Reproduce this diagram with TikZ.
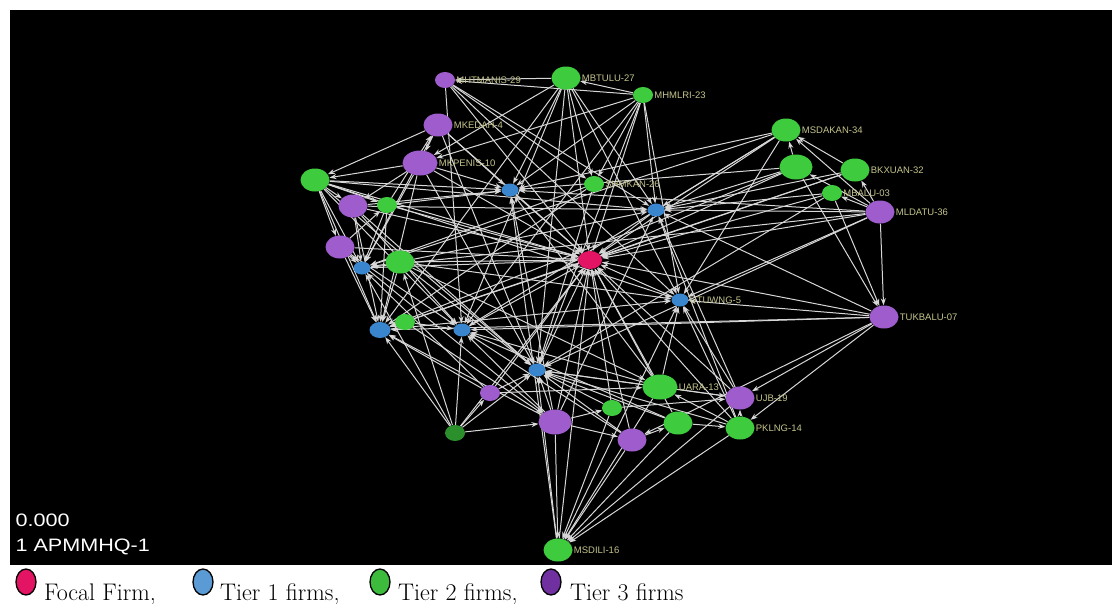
\documentclass[tikz,border=0pt]{standalone}
\usepackage{fontspec}
\usetikzlibrary{shapes.geometric,arrows.meta}
\newfontfamily\arialfont{Liberation Sans}
\definecolor{focalred}{RGB}{228,20,100}
\definecolor{tierblue}{RGB}{58,134,206}
\definecolor{tiergreen}{RGB}{62,204,62}
\definecolor{tierpurple}{RGB}{158,92,204}
\definecolor{keyblue}{RGB}{91,155,213}
\definecolor{keygreen}{RGB}{61,187,61}
\definecolor{keypurple}{RGB}{112,48,160}
\definecolor{tagyellow}{RGB}{196,196,140}
\definecolor{linkgrey}{RGB}{215,215,215}
\pgfdeclarelayer{bg}
\pgfsetlayers{bg,main}

\begin{document}
\begin{tikzpicture}[x=1pt,y=-1pt,
            firm/.style={ellipse,inner sep=0pt,minimum width=29pt,minimum height=23pt},
            small/.style={minimum width=20pt,minimum height=16pt},
            focal/.style={firm,fill=focalred,minimum width=24pt,minimum height=18pt},
            tierone/.style={firm,fill=tierblue,minimum width=17pt,minimum height=13pt},
            tiertwo/.style={firm,fill=tiergreen},
            tierthree/.style={firm,fill=tierpurple},
            tag/.style={font=\arialfont\fontsize{9.5}{9.5}\selectfont,text=tagyellow,inner sep=1pt},
            link/.style={draw=linkgrey,line width=1pt,-{Stealth[length=7pt,width=5pt,fill=white]}},
            keyoval/.style={ellipse,draw=black,line width=1.3pt,minimum width=20pt,minimum height=26pt,inner sep=0pt},
            keytext/.style={anchor=base west,inner sep=0pt,font=\fontsize{24}{24}\selectfont}]

    \useasboundingbox (0,0) rectangle (1112,603);

    \node[focal] (f) at (590,260) {};

    \node[tierone] (t1a) at (510,190) {};
    \node[tierone] (t1b) at (656,210) {};
    \node[tierone] (t1c) at (362,268) {};
    \node[tierone,label={[tag]right:UTUWNG-5}] (t1d) at (680,300) {};
    \node[tierone,minimum width=21pt,minimum height=16pt] (t1e) at (380,330) {};
    \node[tierone] (t1f) at (462,330) {};
    \node[tierone] (t1g) at (537,370) {};

    \node[tiertwo,label={[tag]right:MBTULU-27}] (t2a) at (566,78) {};
    \node[tiertwo,small,label={[tag]right:MHMLRI-23}] (t2b) at (643,95) {};
    \node[tiertwo] (t2c) at (315,180) {};
    \node[tiertwo,small] (t2d) at (387,205) {};
    \node[tiertwo] (t2e) at (400,262) {};
    \node[tiertwo,small,label={[tag]right:SHMKAN-26}] (t2f) at (594,184) {};
    \node[tiertwo,label={[tag]right:MSDAKAN-34}] (t2g) at (786,130) {};
    \node[tiertwo,minimum width=33pt,minimum height=25pt] (t2h) at (796,167) {};
    \node[tiertwo,label={[tag]right:BKXUAN-32}] (t2i) at (855,170) {};
    \node[tiertwo,small,label={[tag]right:MBALU-03}] (t2j) at (832,193) {};
    \node[tiertwo,minimum width=35pt,minimum height=25pt,label={[tag]right:UARA-13}] (t2k) at (660,387) {};
    \node[tiertwo,small] (t2l) at (612,408) {};
    \node[tiertwo] (t2m) at (678,423) {};
    \node[tiertwo,label={[tag]right:PKLNG-14}] (t2n) at (740,428) {};
    \node[tiertwo,small,fill=tiergreen!70!black] (t2o) at (455,433) {};
    \node[tiertwo,label={[tag]right:MSDILI-16}] (t2p) at (558,550) {};
    \node[tiertwo,small] (t2q) at (405,322) {};

    \node[tierthree,small,label={[tag]right:MHTMANIS-29}] (t3a) at (445,80) {};
    \node[tierthree,label={[tag]right:MKEDAH-4}] (t3b) at (438,125) {};
    \node[tierthree,minimum width=35pt,minimum height=25pt,label={[tag]right:MKPENIS-10}] (t3c) at (420,163) {};
    \node[tierthree] (t3d) at (353,206) {};
    \node[tierthree] (t3e) at (340,247) {};
    \node[tierthree,label={[tag]right:MLDATU-36}] (t3f) at (880,212) {};
    \node[tierthree,label={[tag]right:TUKBALU-07}] (t3g) at (884,317) {};
    \node[tierthree,small] (t3h) at (490,393) {};
    \node[tierthree,minimum width=33pt,minimum height=25pt] (t3i) at (555,422) {};
    \node[tierthree] (t3j) at (632,440) {};
    \node[tierthree,label={[tag]right:UJB-19}] (t3k) at (740,398) {};

    \begin{pgfonlayer}{bg}
        \fill[black] (10,10) rectangle (1112,565);
        \foreach \a/\b in {t1a/f,t1b/f,t1c/f,t1d/f,t1e/f,t1f/f,t1g/f,
                           t2a/f,t2b/f,t2c/f,t2e/f,t2g/f,t2h/f,t2k/f,t2l/f,t2n/f,t2p/f,t2o/f,
                           t3a/f,t3b/f,t3c/f,t3e/f,t3f/f,t3g/f,t3i/f,t3j/f,t3k/f,
                           t2a/t1a,t2b/t1a,t2c/t1a,t2d/t1a,t3b/t1a,t3c/t1a,t3d/t1a,t2g/t1a,t2h/t1a,t3f/t1a,t2k/t1a,t3i/t1a,t2p/t1a,
                           t2a/t1b,t2b/t1b,t2g/t1b,t2h/t1b,t2i/t1b,t2j/t1b,t3f/t1b,t3g/t1b,t2c/t1b,t3d/t1b,t2e/t1b,t3k/t1b,t2n/t1b,t3i/t1b,
                           t2c/t1c,t3d/t1c,t3e/t1c,t2d/t1c,t3c/t1c,t3b/t1c,t2e/t1c,t3h/t1c,t2o/t1c,
                           t2c/t1e,t3e/t1e,t3d/t1e,t2e/t1e,t2d/t1e,t3c/t1e,t2o/t1e,t3h/t1e,t3i/t1e,t2f/t1e,t2q/t1e,
                           t2c/t1f,t3d/t1f,t3e/t1f,t2a/t1f,t3a/t1f,t2k/t1f,t3i/t1f,t3j/t1f,t2m/t1f,t2q/t1f,
                           t2a/t1g,t2b/t1g,t2f/t1g,t3c/t1g,t2e/t1g,t3d/t1g,t2k/t1g,t2l/t1g,t2m/t1g,t2n/t1g,t3k/t1g,t3j/t1g,t3i/t1g,t2p/t1g,t3h/t1g,t2o/t1g,t2c/t1g,
                           t2b/t1d,t2g/t1d,t3f/t1d,t3g/t1d,t2k/t1d,t2n/t1d,t3k/t1d,t2p/t1d,t2a/t1d,t3a/t1d,t2c/t1d,t1e/t1d,
                           t2a/t3a,t2b/t2a,t2b/t3a,t3b/t2c,t3c/t2c,t3c/t3d,t2c/t3d,t2c/t2d,t3e/t2d,
                           t2h/t2g,t2i/t2g,t3f/t2g,t3f/t2h,t3f/t2i,t3f/t2j,t3f/t3g,t2j/t3g,t2h/t3g,
                           t2k/t3k,t2n/t2k,t2n/t3k,t2m/t2n,t3j/t2m,t3i/t3j,t3i/t2p,t3j/t2p,t2l/t2p,t2n/t2p,t2m/t2p,t2k/t2p,t3k/t2p,
                           t2o/t3i,t2o/t3h,t2o/t2e,t2o/t1f,t3g/t2n,t3g/t3k,t3g/t3j,t2b/t2f,t2a/t2f,t3a/t2f,
                           t2a/t3c,t2b/t3c,t3a/t1b,t2b/t1f,t2a/t1e,t2f/t1c,t2h/t1e,t2g/t1f,t2j/t1g,t3f/t1g,t3f/t1c,t3g/t1f,t3g/t1e,
                           t2c/t3e,t3b/t3c,t2d/t3b,t2l/t3k,t3i/t2l,t3h/t2k,t2e/t2k,t3e/t3i,t2q/t3i,
                           t2i/f,t2j/f,t3h/f,t2m/f,t2d/f,t3d/f,t2g/t1c,t2i/t1e,t3b/t1g,t2e/t1d}
            \draw[link] (\a) -- (\b);
    \end{pgfonlayer}

    \node[anchor=west,text=white,font=\arialfont\fontsize{18}{18}\selectfont] (scale) at (12,520) {\scalebox{1.2}[1]{0.000}};
    \node[anchor=west,text=white,font=\arialfont\fontsize{18}{18}\selectfont] (focalname) at (12,547) {\scalebox{1.2}[1]{1 APMMHQ-1}};

    \node[keyoval,fill=focalred] (kf) at (26,582) {};
    \node[keytext] (kftext) at (44,600) {Focal Firm,};
    \node[keyoval,fill=keyblue] (kb) at (203,582) {};
    \node[keytext] (kbtext) at (220,600) {Tier 1 firms,};
    \node[keyoval,fill=keygreen] (kg) at (380,582) {};
    \node[keytext] (kgtext) at (398,600) {Tier 2 firms,};
    \node[keyoval,fill=keypurple] (kp) at (551,582) {};
    \node[keytext] (kptext) at (570,600) {Tier 3 firms};
\end{tikzpicture}
\end{document}
